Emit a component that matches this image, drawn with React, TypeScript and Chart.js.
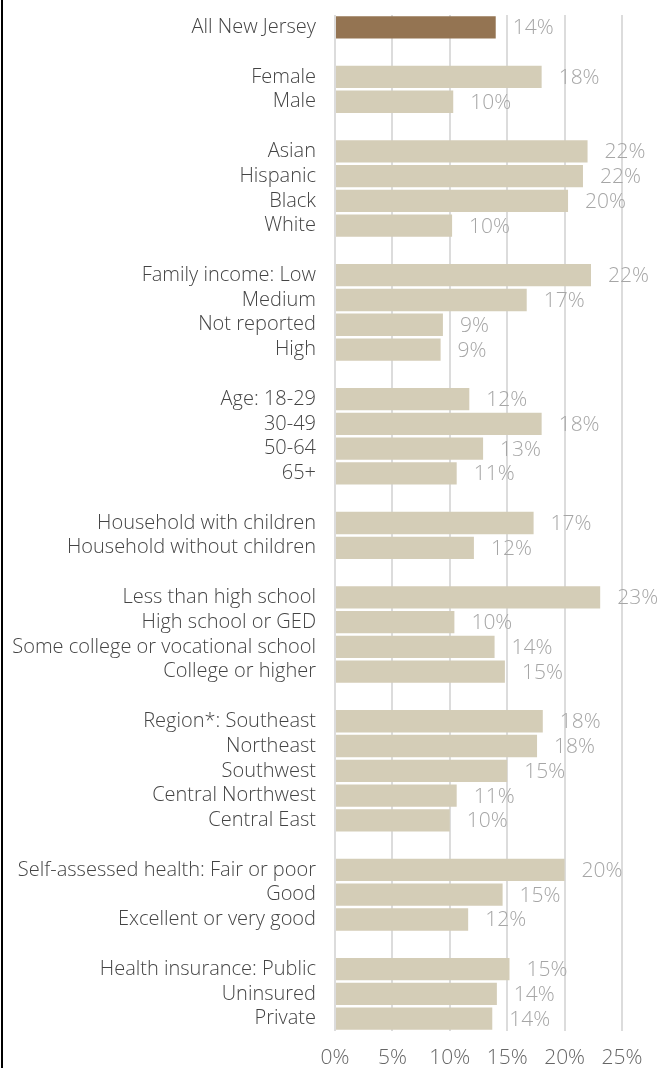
import React, { useEffect, useRef } from "react";
import { Chart, registerables } from "chart.js";

Chart.register(...registerables);

// Groups of categories (a blank row separates groups)
const groupOverall = ["All New Jersey"];
const valuesOverall = [14.0];

const groupGender = ["Female", "Male"];
const valuesGender = [18.0, 10.3];

const groupRace = ["Asian", "Hispanic", "Black", "White"];
const valuesRace = [22.0, 21.6, 20.3, 10.2];

const groupIncome = ["Family income: Low", "Medium", "Not reported", "High"];
const valuesIncome = [22.3, 16.7, 9.4, 9.2];

const groupAge = ["Age: 18-29", "30-49", "50-64", "65+"];
const valuesAge = [11.7, 18.0, 12.9, 10.6];

const groupHousehold = ["Household with children", "Household without children"];
const valuesHousehold = [17.3, 12.1];

const groupEducation = [
  "Less than high school",
  "High school or GED",
  "Some college or vocational school",
  "College or higher",
];
const valuesEducation = [23.1, 10.4, 13.9, 14.8];

const groupRegion = [
  "Region*: Southeast",
  "Northeast",
  "Southwest",
  "Central Northwest",
  "Central East",
];
const valuesRegion = [18.1, 17.6, 15.0, 10.6, 10.0];

const groupHealth = [
  "Self-assessed health: Fair or poor",
  "Good",
  "Excellent or very good",
];
const valuesHealth = [20.0, 14.6, 11.6];

const groupInsurance = ["Health insurance: Public", "Uninsured", "Private"];
const valuesInsurance = [15.2, 14.1, 13.7];

const xTicks = [0, 5, 10, 15, 20, 25];

const groups: [string[], number[]][] = [
  [groupOverall, valuesOverall],
  [groupGender, valuesGender],
  [groupRace, valuesRace],
  [groupIncome, valuesIncome],
  [groupAge, valuesAge],
  [groupHousehold, valuesHousehold],
  [groupEducation, valuesEducation],
  [groupRegion, valuesRegion],
  [groupHealth, valuesHealth],
  [groupInsurance, valuesInsurance],
];

const labels: string[] = [];
const values: (number | null)[] = [];
groups.forEach(([l, v], gi) => {
  if (gi > 0) {
    labels.push("");
    values.push(null);
  }
  l.forEach((s, i) => {
    labels.push(s);
    values.push(v[i]);
  });
});

const BROWN = "#947452";
const BEIGE = "#d4cdb7";
const FONT = "'Open Sans', 'DejaVu Sans', sans-serif";

const valueLabelPlugin = {
  id: "valueLabels",
  afterDatasetsDraw(chart: any) {
    const ctx = chart.ctx;
    const meta = chart.getDatasetMeta(0);
    ctx.save();
    ctx.font = `300 21px ${FONT}`;
    ctx.fillStyle = "#a6a6a6";
    ctx.textAlign = "left";
    ctx.textBaseline = "middle";
    meta.data.forEach((bar: any, i: number) => {
      const v = values[i];
      if (v === null || v === undefined) return;
      ctx.fillText(`${Math.round(v)}%`, bar.x + 17, bar.y + 1);
    });
    ctx.restore();
  },
};

export default function App() {
  const ref = useRef<HTMLCanvasElement | null>(null);

  useEffect(() => {
    if (!ref.current) return;
    const chart = new Chart(ref.current, {
      type: "bar",
      data: {
        labels,
        datasets: [
          {
            data: values,
            backgroundColor: values.map((_, i) => (i === 0 ? BROWN : BEIGE)),
            borderWidth: 0,
            barPercentage: 0.9,
            categoryPercentage: 1.0,
          },
        ],
      },
      options: {
        indexAxis: "y",
        animation: false,
        responsive: false,
        maintainAspectRatio: false,
        layout: { padding: { top: 15, right: 40, bottom: 0, left: 0 } },
        plugins: {
          legend: { display: false },
          tooltip: { enabled: false },
        },
        scales: {
          x: {
            min: 0,
            max: 25,
            afterBuildTicks: (scale: any) => {
              scale.ticks = xTicks.map((v) => ({ value: v }));
            },
            afterFit: (scale: any) => {
              scale.height = 37;
              scale.paddingLeft = 0;
              scale.paddingRight = 0;
            },
            grid: {
              color: "#dcdcdc",
              lineWidth: 2,
              drawTicks: false,
            },
            border: { display: false },
            ticks: {
              padding: 14,
              color: "#666666",
              font: { family: FONT, size: 21, weight: 300 },
              callback: (v: any) => `${v}%`,
            },
          },
          y: {
            afterFit: (scale: any) => {
              scale.width = 335;
              scale.paddingTop = 0;
              scale.paddingBottom = 0;
            },
            grid: { display: false, drawTicks: false },
            border: { display: false },
            ticks: {
              autoSkip: false,
              padding: 19,
              color: "#444444",
              font: { family: FONT, size: 20, weight: 300 },
            },
          },
        },
      },
      plugins: [valueLabelPlugin],
    });
    return () => chart.destroy();
  }, []);

  return (
    <div style={{ position: "fixed", left: 0, top: 0, width: 662, height: 1068, background: "#fff" }}>
      <div style={{ position: "absolute", left: 1, top: 0, width: 2, height: 1068, background: "#000" }} />
      <canvas ref={ref} width={662} height={1068} style={{ position: "absolute", left: 0, top: 0, width: 662, height: 1068 }} />
    </div>
  );
}
